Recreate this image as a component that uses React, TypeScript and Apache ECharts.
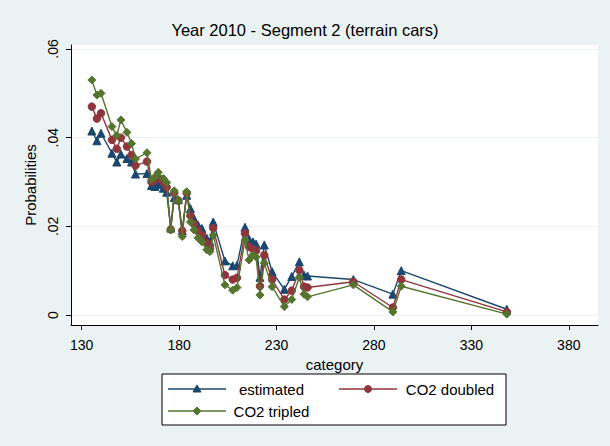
import React, { useEffect, useRef } from "react";
import * as echarts from "echarts";

// Category values (x) shared by the three series
const categories = [
  135.2, 137.8, 139.9, 145.5, 148.0, 150.1, 153.2, 155.6, 157.6, 163.5,
  165.8, 167.6, 169.3, 171.9, 173.6, 175.7, 177.5, 179.6, 181.6, 183.9,
  185.8, 187.6, 189.7, 191.7, 194.2, 195.8, 197.5, 203.5, 207.5, 209.7,
  213.8, 215.9, 217.9, 219.5, 221.5, 223.7, 227.7, 234.0, 237.8, 241.7,
  244.1, 245.9, 269.4, 289.7, 294.0, 348.2,
];

const estimated = [
  0.0415, 0.0393, 0.041, 0.0365, 0.0345, 0.0363, 0.0353, 0.0345, 0.0318, 0.0319,
  0.0292, 0.029, 0.0295, 0.0286, 0.0277, 0.0196, 0.0265, 0.026, 0.019, 0.027,
  0.024, 0.0218, 0.0203, 0.0195, 0.0173, 0.0165, 0.021, 0.0122, 0.0111, 0.0112,
  0.0198, 0.0171, 0.0165, 0.016, 0.0085, 0.0158, 0.0098, 0.0058, 0.0087, 0.012,
  0.009, 0.0088, 0.008, 0.0047, 0.01, 0.0013,
];

const co2Doubled = [
  0.047, 0.0443, 0.0455, 0.0395, 0.0375, 0.04, 0.038, 0.0361, 0.0337, 0.0346,
  0.03, 0.0305, 0.031, 0.03, 0.0288, 0.0193, 0.0275, 0.0258, 0.019, 0.0275,
  0.0224, 0.0205, 0.019, 0.018, 0.0162, 0.015, 0.0196, 0.009, 0.008, 0.0084,
  0.0184, 0.0154, 0.0148, 0.0145, 0.0065, 0.0135, 0.008, 0.0035, 0.0055, 0.0101,
  0.0064, 0.0062, 0.0075, 0.0017, 0.008, 0.0007,
];

const co2Tripled = [
  0.053, 0.0496, 0.05, 0.0425, 0.0405, 0.044, 0.0412, 0.0387, 0.0352, 0.0366,
  0.0305, 0.0312, 0.0322, 0.0308, 0.0299, 0.0192, 0.028, 0.0257, 0.0177, 0.0278,
  0.021, 0.0192, 0.0174, 0.0165, 0.0147, 0.0143, 0.018, 0.0068, 0.0056, 0.0062,
  0.0169, 0.0124, 0.0135, 0.0131, 0.0045, 0.0117, 0.0064, 0.0019, 0.0035, 0.0085,
  0.0047, 0.0041, 0.0068, 0.0007, 0.0065, 0.0002,
];

const xTicks = [130, 180, 230, 280, 330, 380];
const yTicks = [0, 0.02, 0.04, 0.06];

const seriesNames = ["estimated", "CO2 doubled", "CO2 tripled"];
const seriesColors = ["#1a476f", "#90353b", "#55752f"];
const seriesSymbols = ["triangle", "circle", "diamond"];

const FONT = "Liberation Sans, Arial, Helvetica, sans-serif";
const BG = "#eaf2f3";

function pairs(values: number[]) {
  return categories.map((c, i) => [c, values[i]]);
}

function legendItem(
  x: number,
  y: number,
  textCenter: number,
  idx: number
): any[] {
  const color = seriesColors[idx];
  const markerStyle = { fill: color, stroke: color };
  let marker: any;
  if (idx === 0) {
    marker = {
      type: "polygon",
      shape: { points: [[x + 29, y - 4], [x + 33, y + 3], [x + 25, y + 3]] },
      style: markerStyle,
    };
  } else if (idx === 1) {
    marker = { type: "circle", shape: { cx: x + 29, cy: y, r: 3.5 }, style: markerStyle };
  } else {
    marker = {
      type: "polygon",
      shape: { points: [[x + 29, y - 4], [x + 33, y], [x + 29, y + 4], [x + 25, y]] },
      style: markerStyle,
    };
  }
  return [
    {
      type: "line",
      shape: { x1: x, y1: y, x2: x + 58, y2: y },
      style: { stroke: color, lineWidth: 1.3 },
    },
    marker,
    {
      type: "text",
      x: textCenter,
      y,
      style: {
        text: seriesNames[idx],
        font: `15px ${FONT}`,
        fill: "#000",
        align: "center",
        verticalAlign: "middle",
      },
    },
  ];
}

export default function App() {
  const ref = useRef<HTMLDivElement>(null);

  useEffect(() => {
    if (!ref.current) return;
    const chart = echarts.init(ref.current, undefined, { renderer: "svg" });

    const seriesData = [estimated, co2Doubled, co2Tripled];

    const option: any = {
      animation: false,
      backgroundColor: BG,
      title: {
        text: "Year 2010 - Segment 2 (terrain cars)",
        left: "center",
        top: 16,
        textStyle: { fontFamily: FONT, fontSize: 16.5, fontWeight: "normal", color: "#000" },
      },
      grid: {
        left: 71,
        right: 12,
        top: 45,
        bottom: 121,
        show: true,
        backgroundColor: "#ffffff",
        borderWidth: 0,
      },
      xAxis: {
        type: "value",
        min: 124.5,
        max: 395,
        name: "category",
        nameLocation: "middle",
        nameGap: 28,
        nameTextStyle: { fontFamily: FONT, fontSize: 15, color: "#000" },
        axisLine: { onZero: false, lineStyle: { color: "#000", width: 1 } },
        axisTick: { customValues: xTicks, length: 5, lineStyle: { color: "#000" } },
        axisLabel: {
          customValues: xTicks,
          fontFamily: FONT,
          fontSize: 14,
          color: "#000",
          margin: 13,
        },
        splitLine: { show: false },
      },
      yAxis: {
        type: "value",
        min: -0.00225,
        max: 0.0609,
        name: "Probabilities",
        nameLocation: "middle",
        nameGap: 29,
        nameTextStyle: { fontFamily: FONT, fontSize: 15, color: "#000" },
        axisLine: { show: true, onZero: false, lineStyle: { color: "#000", width: 1 } },
        axisTick: { show: true, customValues: yTicks, length: 5, lineStyle: { color: "#000" } },
        axisLabel: {
          customValues: yTicks,
          rotate: 90,
          fontFamily: FONT,
          fontSize: 14,
          color: "#000",
          margin: 11,
          formatter: (v: number) => (v === 0 ? "0" : v.toFixed(2).replace(/^0/, "")),
        },
        splitLine: { show: true, lineStyle: { color: BG, width: 1.2 } },
      },
      series: seriesData.map((vals, i) => ({
        name: seriesNames[i],
        type: "line",
        data: pairs(vals),
        symbol: seriesSymbols[i],
        symbolSize: i === 1 ? 7.5 : 8,
        showSymbol: true,
        lineStyle: { color: seriesColors[i], width: 1.4 },
        itemStyle: { color: seriesColors[i], borderColor: seriesColors[i] },
        z: 2 + i,
      })),
      graphic: [
        {
          type: "rect",
          shape: { x: 162, y: 374, width: 344, height: 51 },
          style: { fill: "#fff", stroke: "#000", lineWidth: 1 },
        },
        ...legendItem(168, 389, 271.5, 0),
        ...legendItem(339, 389, 450, 1),
        ...legendItem(168, 411, 271.5, 2),
      ],
    };

    chart.setOption(option);
    return () => chart.dispose();
  }, []);

  return (
    <div
      ref={ref}
      style={{ position: "fixed", left: 0, top: 0, width: 610, height: 446 }}
    />
  );
}
